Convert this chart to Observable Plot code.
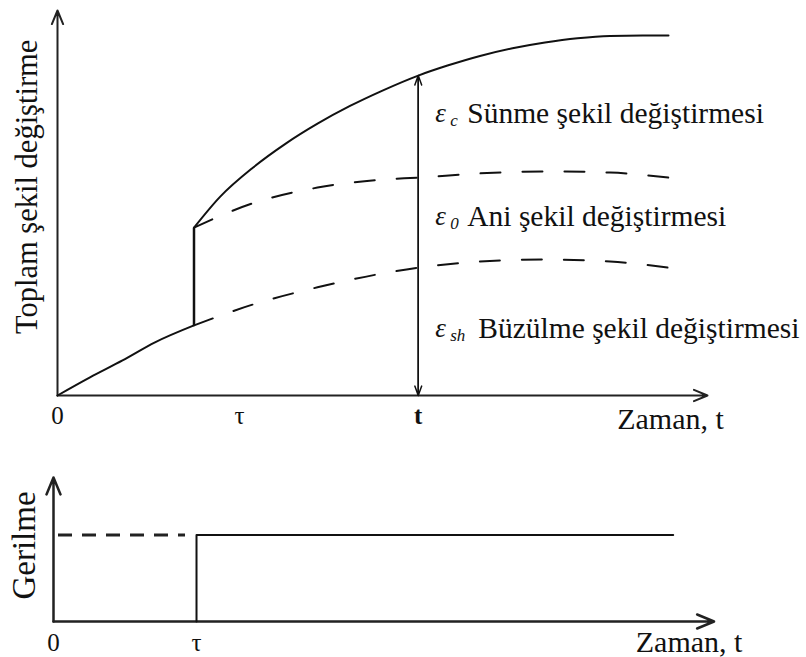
<!DOCTYPE html>
<html>
<head>
<meta charset="utf-8">
<script src="https://cdn.jsdelivr.net/npm/d3@7"></script>
<script src="https://cdn.jsdelivr.net/npm/@observablehq/plot@0.6"></script>
<style>
  html, body { margin: 0; padding: 0; background: #fff; }
  #chart svg { display: block; }
  #chart svg, #chart svg text { font-family: "Liberation Serif", "DejaVu Serif", serif !important; }
</style>
</head>
<body>
<div id="chart"></div>
<script>
// ---------- data (schematic units) ----------
const tau = 2.1;          // loading time
const tObs = 5.55;        // observation time t
const tAxisEnd = 10;      // end of time axis (arrow)
const strainAxisEnd = 100;

// shrinkage strain before loading (solid)
const shrinkBeforeT = [0, 0.5, 1.0, 1.5, 2.1];
const shrinkBeforeV = [0, 4.7, 9.1, 13.8, 18.2];

// after loading: shrinkage (dashed) and shrinkage + instantaneous (dashed)
const afterT = [2.1, 3.0, 4.0, 5.0, 5.55, 6.5, 7.5, 8.5, 9.4];
const shrinkAfterV = [18.2, 23.6, 28.1, 31.7, 33.2, 34.8, 35.3, 34.8, 33.2];
const instantAfterV = [43.6, 49.9, 54.0, 56.1, 56.6, 57.7, 58.2, 57.9, 56.6];

// total strain (solid)
const totalT = [2.1, 2.5, 3.0, 3.5, 4.0, 4.5, 5.0, 5.55, 6.0, 6.5, 7.0, 7.5, 8.0, 8.5, 9.0, 9.4];
const totalV = [43.6, 51.6, 59.1, 65.3, 70.6, 75.2, 79.2, 83.1, 85.7, 88.2, 90.2, 91.7, 92.8, 93.4, 93.5, 93.5];

// top tick labels
const topTickLabels = ["0", "τ", "t"];
const topTickPos = [0, 2.8, 5.55];
const topTickBold = [false, false, true];

// strain component labels
const compSymbols = ["ε", "ε", "ε"];
const compSubs = ["c", "0", "sh"];
const compNames = ["Sünme şekil değiştirmesi", "Ani şekil değiştirmesi", "Büzülme şekil değiştirmesi"];
const compLabelV = [73.2, 46.5, 17.4];

const topYLabel = "Toplam şekil değiştirme";
const xLabel = "Zaman, t";

// stress history (bottom panel)
const stressLevel = 60;
const stressT = [2.1, 2.1, 9.1];
const stressV = [0, 60, 60];
const stressTimeAxisEnd = 9.7;
const bottomTickLabels = ["0", "τ"];
const bottomTickPos = [0, 2.1];
const bottomYLabel = "Gerilme";

// ---------- helpers ----------
const FONT = "Liberation Serif, DejaVu Serif, serif";
const toRows = (xs, ys) => xs.map((x, i) => ({x, y: ys[i]}));
const INK = "#111";

// ---------- top panel ----------
const topTicks = topTickLabels.map((label, i) => ({label, x: topTickPos[i], bold: topTickBold[i]}));
const comps = compNames.map((name, i) => ({sym: compSymbols[i], sub: compSubs[i], name, y: compLabelV[i], x: tObs}));
const compsShortSub = comps.filter(d => d.sub.length === 1);
const compsLongSub = comps.filter(d => d.sub.length > 1);

const strainChart = Plot.plot({
  width: 806,
  height: 450,
  marginLeft: 57,
  marginRight: 99,
  marginTop: 10,
  marginBottom: 55,
  style: {background: "#fff", overflow: "visible"},
  x: {domain: [0, tAxisEnd], axis: null},
  y: {domain: [0, strainAxisEnd], axis: null},
  marks: [
    Plot.arrow([{x1: 0, y1: 0, x2: tAxisEnd, y2: 0}], {x1: "x1", y1: "y1", x2: "x2", y2: "y2", stroke: "#222", strokeWidth: 2, headLength: 11, headAngle: 45}),
    Plot.arrow([{x1: 0, y1: 0, x2: 0, y2: strainAxisEnd}], {x1: "x1", y1: "y1", x2: "x2", y2: "y2", stroke: "#222", strokeWidth: 2, headLength: 11, headAngle: 45}),
    Plot.line(toRows(shrinkBeforeT, shrinkBeforeV), {x: "x", y: "y", stroke: INK, strokeWidth: 2, curve: "monotone-x"}),
    Plot.line(toRows(afterT, shrinkAfterV), {x: "x", y: "y", stroke: INK, strokeWidth: 2, strokeDasharray: "20,22", curve: "monotone-x"}),
    Plot.line(toRows(afterT, instantAfterV), {x: "x", y: "y", stroke: INK, strokeWidth: 2, strokeDasharray: "20,22", curve: "monotone-x"}),
    Plot.link([{x: tau, y1: shrinkBeforeV[shrinkBeforeV.length - 1], y2: instantAfterV[0]}], {x1: "x", x2: "x", y1: "y1", y2: "y2", stroke: INK, strokeWidth: 2.5}),
    Plot.line(toRows(totalT, totalV), {x: "x", y: "y", stroke: INK, strokeWidth: 2, curve: "monotone-x"}),
    Plot.arrow([{x: tObs, y1: 0, y2: totalV[totalT.indexOf(tObs)]}], {x1: "x", x2: "x", y1: "y1", y2: "y2", stroke: INK, strokeWidth: 1.5, headLength: 10, headAngle: 40}),
    Plot.arrow([{x: tObs, y1: totalV[totalT.indexOf(tObs)], y2: 0}], {x1: "x", x2: "x", y1: "y1", y2: "y2", stroke: INK, strokeWidth: 1.5, headLength: 10, headAngle: 40}),
    Plot.text(topTicks.filter(d => !d.bold), {x: "x", y: 0, text: "label", dy: 20, fontSize: 25, fontFamily: FONT, fill: INK}),
    Plot.text(topTicks.filter(d => d.bold), {x: "x", y: 0, text: "label", dy: 20, fontSize: 25, fontFamily: FONT, fontWeight: "bold", fill: INK}),
    Plot.text([xLabel], {x: tAxisEnd, y: 0, text: d => d, dx: -37, dy: 24, fontSize: 30, fontFamily: FONT, fill: INK}),
    Plot.text([topYLabel], {x: 0, y: 54.2, text: d => d, rotate: -90, dx: -30, fontSize: 30.5, fontFamily: FONT, fill: INK}),
    Plot.text(comps, {x: "x", y: "y", text: "sym", textAnchor: "start", dx: 17, fontSize: 27, fontFamily: FONT, fontStyle: "italic", fill: INK}),
    Plot.text(comps, {x: "x", y: "y", text: "sub", textAnchor: "start", dx: 32, dy: 7, fontSize: 17, fontFamily: FONT, fontStyle: "italic", fill: INK}),
    Plot.text(compsShortSub, {x: "x", y: "y", text: "name", textAnchor: "start", dx: 49, fontSize: 29.5, fontFamily: FONT, fill: INK}),
    Plot.text(compsLongSub, {x: "x", y: "y", text: "name", textAnchor: "start", dx: 60, fontSize: 29.5, fontFamily: FONT, fill: INK})
  ]
});

// ---------- bottom panel ----------
const bottomTicks = bottomTickLabels.map((label, i) => ({label, x: bottomTickPos[i]}));

const stressChart = Plot.plot({
  width: 806,
  height: 207,
  marginLeft: 53,
  marginRight: 72,
  marginTop: 27,
  marginBottom: 36,
  style: {background: "#fff", overflow: "visible"},
  x: {domain: [0, 10], axis: null},
  y: {domain: [0, 100], axis: null},
  marks: [
    Plot.arrow([{x1: 0, y1: 0, x2: stressTimeAxisEnd, y2: 0}], {x1: "x1", y1: "y1", x2: "x2", y2: "y2", stroke: "#222", strokeWidth: 2.5, headLength: 11, headAngle: 45}),
    Plot.arrow([{x1: 0, y1: 0, x2: 0, y2: 100}], {x1: "x1", y1: "y1", x2: "x2", y2: "y2", stroke: "#222", strokeWidth: 2.5, headLength: 11, headAngle: 45}),
    Plot.ruleY([stressLevel], {x1: 0, x2: tau, insetLeft: 5, insetRight: 11, stroke: "#222", strokeWidth: 3, strokeDasharray: "14,10"}),
    Plot.line(toRows(stressT, stressV), {x: "x", y: "y", stroke: INK, strokeWidth: 2}),
    Plot.text(bottomTicks, {x: "x", y: 0, text: "label", dy: 21, fontSize: 25, fontFamily: FONT, fill: INK}),
    Plot.text([xLabel], {x: stressTimeAxisEnd, y: 0, text: d => d, dx: -25, dy: 21, fontSize: 30, fontFamily: FONT, fill: INK}),
    Plot.text([bottomYLabel], {x: 0, y: 52.8, text: d => d, rotate: -90, dx: -29, fontSize: 33, fontFamily: FONT, fill: INK})
  ]
});

document.getElementById("chart").append(strainChart, stressChart);
</script>
</body>
</html>
